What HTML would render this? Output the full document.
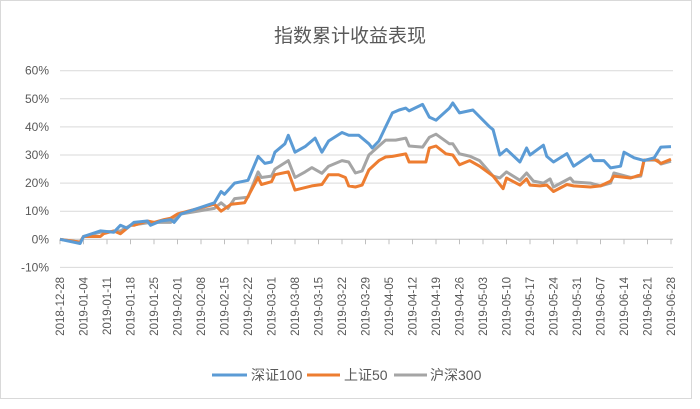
<!DOCTYPE html>
<html><head><meta charset="utf-8"><style>
body{margin:0;background:#fff;}
svg text{font-family:"Liberation Sans","Noto Sans CJK SC",sans-serif;}
</style></head><body>
<svg width="700" height="404" viewBox="0 0 700 404" xmlns="http://www.w3.org/2000/svg">
<rect x="0.5" y="0.5" width="691" height="398" fill="#fff" stroke="#d9d9d9"/>
<text x="350" y="42" text-anchor="middle" font-size="19" fill="#595959">指数累计收益表现</text>
<g id="grid"></g><g id="yt"></g><g id="xt"></g><g id="series"></g>
<g font-size="14" fill="#595959">
<g><line x1="212" y1="375" x2="247" y2="375" stroke="#5b9bd5" stroke-width="3"/><text x="251" y="380">深证100</text></g>
<g><line x1="307" y1="375" x2="340" y2="375" stroke="#ed7d31" stroke-width="3"/><text x="344" y="380">上证50</text></g>
<g><line x1="394" y1="375" x2="427" y2="375" stroke="#a5a5a5" stroke-width="3"/><text x="430" y="380">沪深300</text></g>
</g>
</svg>
<script>
const yTicks=[-10,0,10,20,30,40,50,60];
const xTickLabels=["2018-12-28","2019-01-04","2019-01-11","2019-01-18","2019-01-25","2019-02-01","2019-02-08","2019-02-15","2019-02-22","2019-03-01","2019-03-08","2019-03-15","2019-03-22","2019-03-29","2019-04-05","2019-04-12","2019-04-19","2019-04-26","2019-05-03","2019-05-10","2019-05-17","2019-05-24","2019-05-31","2019-06-07","2019-06-14","2019-06-21","2019-06-28"];
const szDays=[0,6,7,12,16,18,20,22,26,27,30,33,34,36,46,48,49,52,56,59,61,63,64,67,68,70,73,76,78,80,84,86,89,92,93,95,97,99,101,103,104,108,110,112,116,117,119,123,128,129,131,133,137,139,140,144,145,147,151,153,158,159,162,164,167,168,171,174,177,179,182];
const szVals=[0,-1.5,1,3,2.5,5,4,6,6.5,5,6.5,7,6,9,13,17,16,20,21,29.5,27,27.5,31,34,37,31,33,36,31,35,38,37,37,34,32.5,35,40,45,46,46.7,45.7,48,43.5,42.4,46.7,48.5,45,46,40,39,30,32,27.5,32.5,30,33.5,29.5,27.5,30.5,26,30,28,28,25.4,26,31,29,28,29,32.8,33,32,34.2];
const sh50Days=[0,6,7,12,13,16,18,21,22,26,28,31,33,35,46,48,51,55,59,60,63,64,68,70,75,78,80,83,85,86,88,90,92,95,97,99,103,104,109,110,112,115,117,119,122,125,129,132,133,137,139,140,143,145,147,151,153,158,161,164,165,170,173,174,177,179,182];
const sh50Vals=[0,-1,1,1,2,3,2,5,5,6.5,6,7,7.5,9,12.5,10,12.5,13,22,19.5,20.5,23,24,17.5,19,19.5,23,23,22,19,18.6,19.3,24.7,28,29.3,29.5,30.4,27.5,27.5,32.5,33.2,30.4,30,26.5,28,26,22.5,18,21.8,19.3,21.5,19.3,19,19.3,17,19.5,19,18.6,19,20.7,22.5,21.8,23,28.2,28.5,27,28.5];
const hsDays=[0,6,7,12,18,21,27,33,36,46,48,50,52,56,59,60,63,64,68,70,73,75,78,80,84,86,88,90,92,95,97,100,103,104,108,110,112,116,117,119,122,125,129,131,133,137,139,141,144,146,147,152,153,158,161,164,165,170,173,174,178,179,182];
const hsVals=[0,-1,1,2.5,3,5,6,6,9,11,13,11,14.5,15,24,22,22.5,25,28,22,24,25.5,23.5,26,28,27.5,23.6,24.3,30,33.2,35.3,35.3,36,33.2,32.8,36.3,37.4,34,34,30.4,29.6,28,22.5,21.8,24,21,23.6,20.7,20,21.5,18.6,21.8,20.4,20,19,20,23.6,22,22.5,28.2,28.2,26.8,27.8];

const NS="http://www.w3.org/2000/svg";
const X0=60,X1=671,Y0=239.3,PER10=28.1,DAYS=182;
const xs=d=>X0+(X1-X0)*d/DAYS;
const ys=v=>Y0-v*PER10/10;
function mk(tag,attrs,parent){const e=document.createElementNS(NS,tag);for(const k in attrs)e.setAttribute(k,attrs[k]);parent.appendChild(e);return e;}
const grid=document.getElementById('grid'),yt=document.getElementById('yt'),xt=document.getElementById('xt'),ser=document.getElementById('series');
yTicks.forEach(v=>{
  const l=mk('line',{x1:X0,x2:X1+2,y1:ys(v),y2:ys(v),stroke:v===0?'#bfbfbf':'#d9d9d9','stroke-width':1},grid);
  
  
  const t=mk('text',{x:49,y:ys(v)+4,'text-anchor':'end','font-size':12,fill:'#595959'},yt);
  t.textContent=v+'%';
  
  
});
xTickLabels.forEach((s,i)=>{
  const x=xs(i*7);
  const tk=mk('line',{x1:x,x2:x,y1:Y0,y2:Y0+5,stroke:'#bfbfbf'},xt);
  
  
  const t=mk('text',{x:0,y:0,'text-anchor':'end','font-size':11.5,fill:'#595959',transform:`translate(${x+4},277) rotate(-90)`},xt);
  t.textContent=s;
  
  
});
function line(days,vals,color,name){
  const p=mk('polyline',{points:days.map((d,i)=>xs(d).toFixed(1)+','+ys(vals[i]).toFixed(1)).join(' '),fill:'none',stroke:color,'stroke-width':3,'stroke-linejoin':'round'},ser);
  
  
}
line(hsDays,hsVals,'#a5a5a5','series-hs300');
line(sh50Days,sh50Vals,'#ed7d31','series-sz50');
line(szDays,szVals,'#5b9bd5','series-szzs100');
</script>
</body></html>
